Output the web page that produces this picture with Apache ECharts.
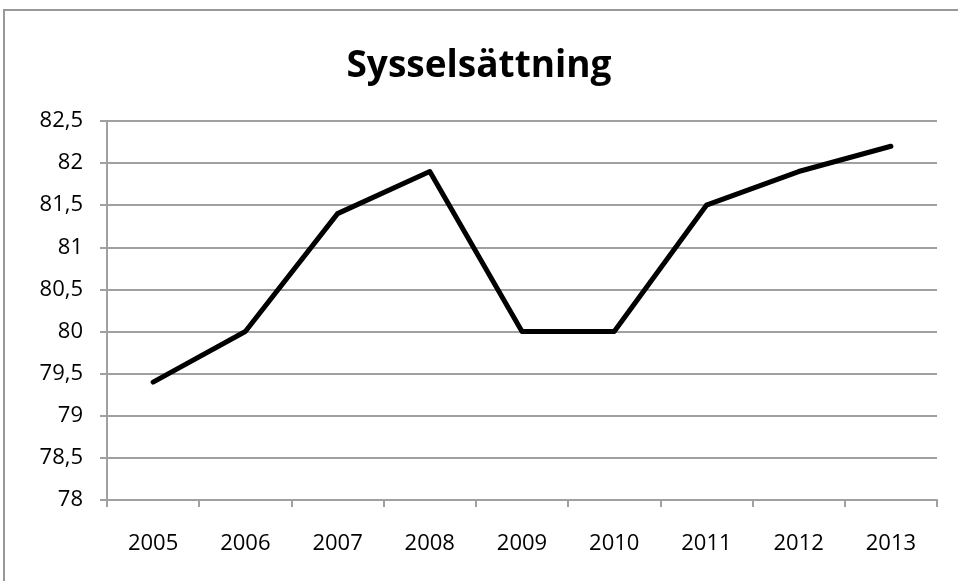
<!DOCTYPE html>
<html>
<head>
<meta charset="utf-8">
<script src="https://cdn.jsdelivr.net/npm/echarts@6/dist/echarts.min.js"></script>
<style>
  html, body { margin: 0; padding: 0; background: #fff; }
  #chart { width: 958px; height: 581px; }
</style>
</head>
<body>
<div id="chart"></div>
<script>
// Data
var years = ["2005", "2006", "2007", "2008", "2009", "2010", "2011", "2012", "2013"];
var employment = [79.4, 80.0, 81.4, 81.9, 80.0, 80.0, 81.5, 81.9, 82.2];

var chart = echarts.init(document.getElementById("chart"));
var font = "'Open Sans', 'Liberation Sans', sans-serif";
var gray = "#a0a0a0";

chart.setOption({
  backgroundColor: "#fff",
  animation: false,
  graphic: [{
    type: "rect",
    shape: {x: 4, y: 10, width: 960, height: 600},
    style: {fill: "none", stroke: "#999", lineWidth: 2},
    silent: true
  }],
  title: {
    text: "Sysselsättning",
    left: "center",
    top: 43,
    textStyle: {fontFamily: font, fontSize: 37, fontWeight: "bold", color: "#000"}
  },
  grid: {left: 107, right: 21, top: 121, bottom: 81, containLabel: false},
  xAxis: {
    type: "category",
    data: years,
    boundaryGap: true,
    axisLine: {lineStyle: {color: gray, width: 2}},
    axisTick: {show: true, length: 7, lineStyle: {color: gray, width: 2}},
    axisLabel: {fontFamily: font, fontSize: 22, color: "#000", margin: 33}
  },
  yAxis: {
    type: "value",
    min: 78,
    max: 82.5,
    interval: 0.5,
    axisLine: {show: true, lineStyle: {color: gray, width: 2}},
    axisTick: {show: true, length: 7, lineStyle: {color: gray, width: 2}},
    splitLine: {lineStyle: {color: gray, width: 2}},
    axisLabel: {
      fontFamily: font, fontSize: 22, color: "#000", margin: 24,
      formatter: function (v) { return String(v).replace(".", ","); }
    }
  },
  series: [{
    type: "line",
    data: employment,
    symbol: "none",
    lineStyle: {color: "#000", width: 5, cap: "round", join: "round"}
  }]
});
</script>
</body>
</html>
